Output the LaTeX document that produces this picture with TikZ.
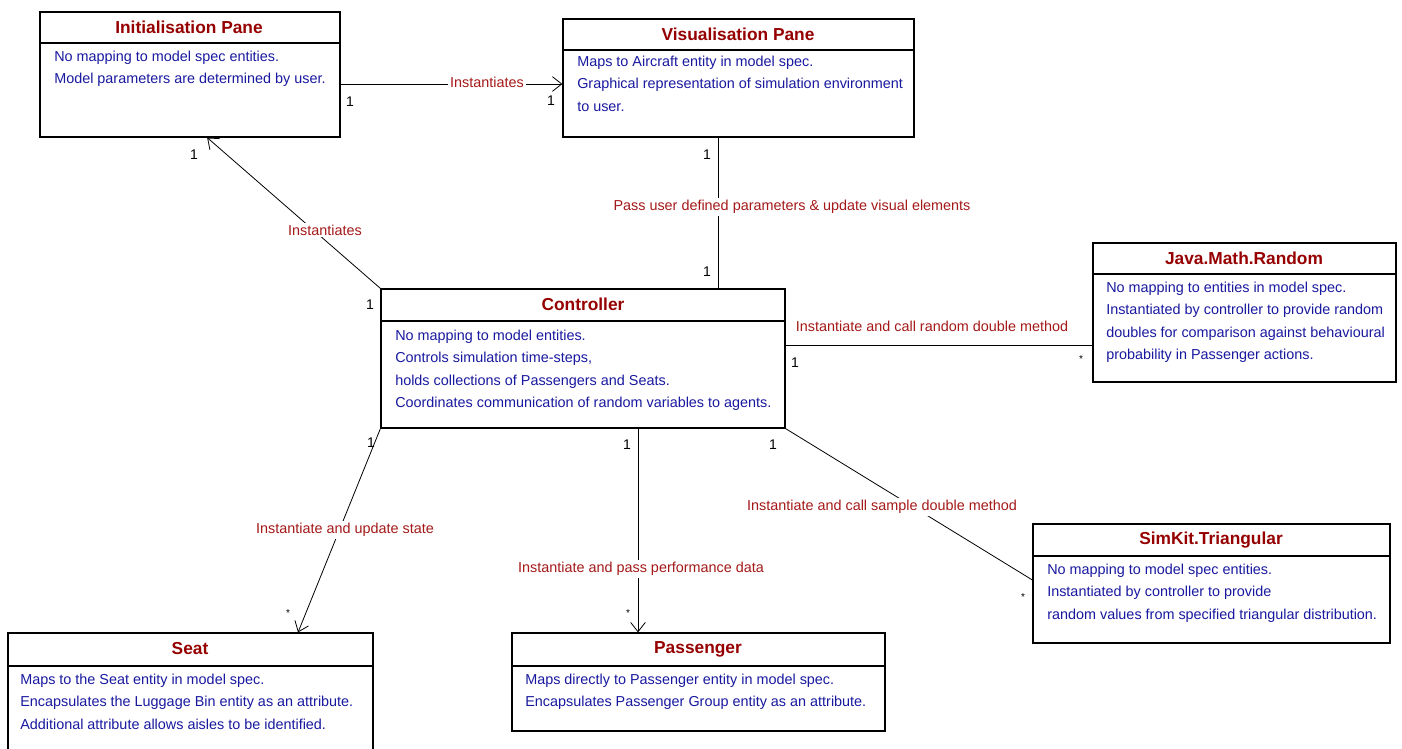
\documentclass[tikz,border=0pt]{standalone}
\usepackage{fontspec}
\setmainfont{Liberation Sans}
\usetikzlibrary{arrows.meta,fit,calc}
\definecolor{tred}{RGB}{150,0,0}
\definecolor{lred}{RGB}{165,25,25}
\definecolor{bblue}{RGB}{25,25,160}
\begin{document}
\begin{tikzpicture}[x=0.75pt,y=-0.75pt,
  box/.style={draw, line width=0.9pt, inner sep=0pt},
  sepline/.style={line width=0.9pt},
  ctitle/.style={font=\fontsize{13}{15}\selectfont\bfseries, text=tred, inner sep=0pt},
  cbody/.style={font=\fontsize{10.8}{16.7}\selectfont, text=bblue, align=left, anchor=north west, inner sep=0pt},
  lbl/.style={font=\fontsize{10.8}{12}\selectfont, text=lred, fill=white, inner sep=1.5pt},
  mult/.style={font=\fontsize{10.5}{12}\selectfont, inner sep=0pt},
  star/.style={font=\fontsize{7.5}{8}\selectfont, inner sep=0pt},
  assoc/.style={line width=0.6pt},
  arr/.style={assoc, -{Straight Barb[length=7pt,width=11pt]}}]
\useasboundingbox (0,0) rectangle (1402,749);
\fill[white] (0,0) rectangle (1402,749);

% ---- class boxes ----
\node[box, fit={(40,12)(340,137)}] (init) {};
\draw[sepline] (init.west |- 0,43) -- (init.east |- 0,43);
\node[ctitle] (initT) at (189,27) {Initialisation Pane};
\node[cbody] (initB) at (54,51) {No mapping to model spec entities.\\Model parameters are determined by user.};

\node[box, fit={(563,19)(914,137)}] (vis) {};
\draw[sepline] (vis.west |- 0,50) -- (vis.east |- 0,50);
\node[ctitle] (visT) at (738,34) {Visualisation Pane};
\node[cbody] (visB) at (577,56) {Maps to Aircraft entity in model spec.\\Graphical representation of simulation environment\\to user.};

\node[box, fit={(381,289)(785,428)}] (ctrl) {};
\draw[sepline] (ctrl.west |- 0,321) -- (ctrl.east |- 0,321);
\node[ctitle] (ctrlT) at (583,304) {Controller};
\node[cbody] (ctrlB) at (395,330) {No mapping to model entities.\\Controls simulation time-steps,\\holds collections of Passengers and Seats.\\Coordinates communication of random variables to agents.};

\node[box, fit={(1093,243)(1396,382)}] (java) {};
\draw[sepline] (java.west |- 0,274) -- (java.east |- 0,274);
\node[ctitle] (javaT) at (1244,258) {Java.Math.Random};
\node[cbody] (javaB) at (1106,282) {No mapping to entities in model spec.\\Instantiated by controller to provide random\\doubles for comparison against behavioural\\probability in Passenger actions.};

\node[box, fit={(1033,524)(1390,643)}] (sim) {};
\draw[sepline] (sim.west |- 0,556) -- (sim.east |- 0,556);
\node[ctitle] (simT) at (1211,540) {SimKit.Triangular};
\node[cbody] (simB) at (1047,564) {No mapping to model spec entities.\\Instantiated by controller to provide\\random values from specified triangular distribution.};

\node[box, fit={(8,633)(373,760)}] (seat) {};
\draw[sepline] (seat.west |- 0,666) -- (seat.east |- 0,666);
\node[ctitle] (seatT) at (190,649) {Seat};
\node[cbody] (seatB) at (20,674) {Maps to the Seat entity in model spec.\\Encapsulates the Luggage Bin entity as an attribute.\\Additional attribute allows aisles to be identified.};

\node[box, fit={(512,633)(885,731)}] (pass) {};
\draw[sepline] (pass.west |- 0,666) -- (pass.east |- 0,666);
\node[ctitle] (passT) at (698,649) {Passenger};
\node[cbody] (passB) at (525,674) {Maps directly to Passenger entity in model spec.\\Encapsulates Passenger Group entity as an attribute.};

% ---- connectors ----
\draw[arr] (init.east |- 0,84) -- (vis.west |- 0,84);
\draw[arr] (ctrl.north west) -- ($(init.south west)!0.557!(init.south east)$);
\draw[assoc] (vis.south -| 718,0) -- (ctrl.north -| 718,0);
\draw[assoc] (ctrl.east |- 0,345) -- (java.west |- 0,345);
\draw[assoc] (ctrl.south east) -- (sim.west |- 0,580);
\draw[arr] (ctrl.south -| 638,0) -- (pass.north -| 638,0);
\draw[arr] (ctrl.south west) -- (seat.north -| 298,0);

% ---- connector labels ----
\node[lbl] (l1) at (487,82) {Instantiates};
\node[lbl] (l2) at (325,230) {Instantiates};
\node[lbl] (l3) at (792,207) {Pass user defined parameters \& update visual elements};
\node[lbl] (l4) at (932,326) {Instantiate and call random double method};
\node[lbl] (l5) at (882,507) {Instantiate and call sample double method};
\node[lbl] (l6) at (641,569) {Instantiate and pass performance data};
\node[lbl] (l7) at (345,530) {Instantiate and update state};

% ---- multiplicities ----
\node[mult] (m1) at (350,102) {1};
\node[mult] (m2) at (551,101) {1};
\node[mult] (m3) at (194,155) {1};
\node[mult] (m4) at (370,305) {1};
\node[mult] (m5) at (707,155) {1};
\node[mult] (m6) at (707,272) {1};
\node[mult] (m7) at (795,363) {1};
\node[star] (m8) at (1081,359) {*};
\node[mult] (m9) at (773,445) {1};
\node[star] (m10) at (1023,597) {*};
\node[mult] (m11) at (627,445) {1};
\node[star] (m12) at (628,613) {*};
\node[mult] (m13) at (371,443) {1};
\node[star] (m14) at (288,613) {*};
\end{tikzpicture}
\end{document}
